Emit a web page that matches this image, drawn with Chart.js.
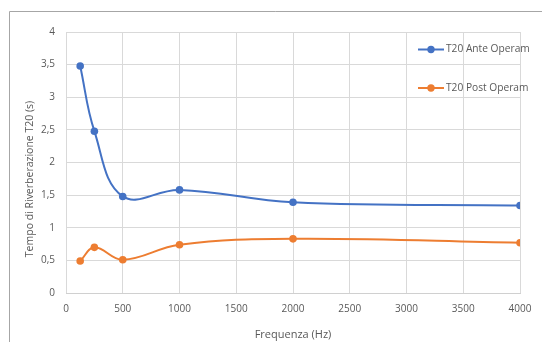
<!DOCTYPE html>
<html><head><meta charset="utf-8">
<script src="https://cdn.jsdelivr.net/npm/chart.js@4/dist/chart.umd.min.js"></script>
<style>html,body{margin:0;padding:0;background:#fff;}#wrap{width:542px;height:342px;position:relative;}</style>
</head><body><div id="wrap"><canvas id="c" width="542" height="342"></canvas></div>
<script>
const frequencies = [125, 250, 500, 1000, 2000, 4000];
const t20Ante = [3.48, 2.48, 1.48, 1.58, 1.39, 1.34];
const t20Post = [0.49, 0.70, 0.51, 0.74, 0.83, 0.77];
const seriesNames = ['T20 Ante Operam', 'T20 Post Operam'];
const xTitle = 'Frequenza (Hz)';
const yTitle = 'Tempo di Riverberazione T20 (s)';

const FONT = '"Open Sans", sans-serif';
const TXT = '#595959';
const BLUE = '#4472C4', ORANGE = '#ED7D31';

const frame = {
  id: 'frame',
  beforeDraw(chart) {
    const ctx = chart.ctx;
    ctx.save();
    ctx.fillStyle = '#fff';
    ctx.fillRect(0, 0, chart.width, chart.height);
    ctx.strokeStyle = '#a6a6a6';
    ctx.lineWidth = 1;
    ctx.beginPath();
    ctx.moveTo(9.5, chart.height);
    ctx.lineTo(9.5, 11.5);
    ctx.lineTo(chart.width, 11.5);
    ctx.stroke();
    ctx.restore();
  }
};

const yTitleDraw = {
  id: 'yTitleDraw',
  afterDraw(chart) {
    const ctx = chart.ctx;
    ctx.save();
    ctx.translate(30, 179);
    ctx.rotate(-Math.PI / 2);
    ctx.fillStyle = TXT;
    ctx.font = '10.5px ' + FONT;
    ctx.textAlign = 'center';
    ctx.textBaseline = 'middle';
    ctx.fillText(yTitle, 0, 0);
    ctx.restore();
  }
};

const legendBox = {
  id: 'legendBox',
  afterDraw(chart) {
    const ctx = chart.ctx;
    ctx.save();
    const rows = [49.5, 88];
    chart.data.datasets.forEach((ds, i) => {
      const y = rows[i];
      ctx.strokeStyle = ds.borderColor;
      ctx.lineWidth = 2;
      ctx.beginPath();
      ctx.moveTo(418, y);
      ctx.lineTo(444, y);
      ctx.stroke();
      ctx.fillStyle = ds.borderColor;
      ctx.beginPath();
      ctx.arc(431, y, 3.7, 0, Math.PI * 2);
      ctx.fill();
      ctx.fillStyle = TXT;
      ctx.font = '10.2px ' + FONT;
      ctx.textBaseline = 'middle';
      ctx.textAlign = 'left';
      ctx.fillText(ds.label, 446, y);
    });
    ctx.restore();
  }
};

const mk = (arr) => arr.map((v, i) => ({x: frequencies[i], y: v}));

new Chart(document.getElementById('c'), {
  type: 'line',
  data: {
    datasets: [
      {label: seriesNames[0], data: mk(t20Ante), borderColor: BLUE, backgroundColor: BLUE,
       borderWidth: 2, pointRadius: 3.8, pointBorderWidth: 0, tension: 0.4},
      {label: seriesNames[1], data: mk(t20Post), borderColor: ORANGE, backgroundColor: ORANGE,
       borderWidth: 2, pointRadius: 3.8, pointBorderWidth: 0, tension: 0.4}
    ]
  },
  options: {
    responsive: false,
    animation: false,
    devicePixelRatio: 1,
    layout: {padding: {left: 20, right: 22, top: 32, bottom: 0}},
    plugins: {legend: {display: false}, tooltip: {enabled: false}},
    scales: {
      x: {
        type: 'linear', min: 0, max: 4000,
        ticks: {stepSize: 500, color: TXT, font: {family: FONT, size: 10}, padding: 10, maxRotation: 0,
          callback: (v) => String(v)},
        grid: {color: '#d9d9d9', drawTicks: false},
        border: {color: '#d0d0d0'},
        title: {display: true, text: xTitle, color: TXT, font: {family: FONT, size: 11}, padding: 1},
        afterFit(s) { s.height = 49; }
      },
      y: {
        min: 0, max: 4,
        ticks: {stepSize: 0.5, color: TXT, font: {family: FONT, size: 10}, padding: 11,
          callback: (v) => String(v).replace('.', ',')},
        grid: {color: '#d9d9d9', drawTicks: false},
        border: {display: false},
        title: {display: false},
        afterFit(s) { s.width = 46; }
      }
    }
  },
  plugins: [frame, yTitleDraw, legendBox]
});
</script></body></html>
